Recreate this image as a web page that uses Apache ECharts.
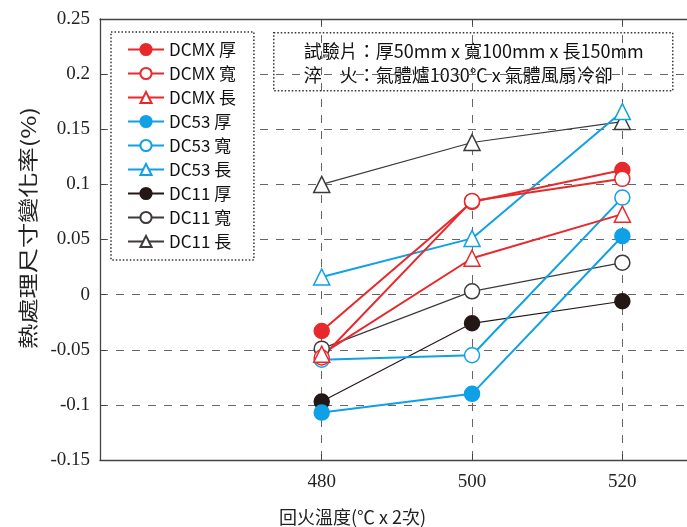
<!DOCTYPE html>
<html>
<head>
<meta charset="utf-8">
<script src="https://cdn.jsdelivr.net/npm/echarts@6/dist/echarts.min.js"></script>
<style>html,body{margin:0;padding:0;background:#fff}#c{width:687px;height:527px}</style>
</head>
<body>
<div id="c"></div>
<script>
var temps = [480, 500, 520];
var yTicks = [-0.15, -0.1, -0.05, 0, 0.05, 0.1, 0.15, 0.2, 0.25];
var names = ['DCMX 厚', 'DCMX 寬', 'DCMX 長', 'DC53 厚', 'DC53 寬', 'DC53 長', 'DC11 厚', 'DC11 寬', 'DC11 長'];
var dcmxThick = [-0.033, 0.084, 0.113];
var dcmxWide = [-0.057, 0.085, 0.105];
var dcmxLong = [-0.054, 0.033, 0.073];
var dc53Thick = [-0.107, -0.090, 0.053];
var dc53Wide = [-0.059, -0.055, 0.088];
var dc53Long = [0.016, 0.051, 0.166];
var dc11Thick = [-0.097, -0.026, -0.006];
var dc11Wide = [-0.049, 0.003, 0.029];
var dc11Long = [0.100, 0.138, 0.157];
var noteLines = ['試驗片：厚50mm x 寬100mm x 長150mm', '淬\u3000火：氣體爐1030℃ x 氣體風扇冷卻'];
var xTitle = '回火溫度(℃ x 2次)';
var yTitle = '熱處理尺寸變化率(%)';

var RED = '#e8292c', BLUE = '#0fa0e6', BLACK = '#231815', GREY = '#3d3a39';
var sans = '"Noto Sans CJK TC", "Noto Sans", sans-serif';
var serif = '"Liberation Serif", "DejaVu Serif", serif';

function pts(arr) { return temps.map(function (t, i) { return [t, arr[i]]; }); }
function mk(name, arr, color, symbol, lw, size, filled) {
  return {
    name: name, type: 'line', data: pts(arr), symbol: symbol, symbolSize: size,
    lineStyle: { color: color, width: lw },
    itemStyle: { color: filled ? color : '#fff', borderColor: color, borderWidth: 1.5 },
    emphasis: { disabled: true }, animation: false
  };
}
var series = [
  mk(names[6], dc11Thick, BLACK, 'circle', 1.2, 15, true),
  mk(names[7], dc11Wide, GREY, 'circle', 1.2, 15, false),
  mk(names[8], dc11Long, GREY, 'triangle', 1.2, 16, false),
  mk(names[3], dc53Thick, BLUE, 'circle', 2, 15, true),
  mk(names[4], dc53Wide, BLUE, 'circle', 2, 15, false),
  mk(names[5], dc53Long, BLUE, 'triangle', 2, 16, false),
  mk(names[0], dcmxThick, RED, 'circle', 2, 15, true),
  mk(names[1], dcmxWide, RED, 'circle', 2, 15, false),
  mk(names[2], dcmxLong, RED, 'triangle', 2, 16, false)
];

var chart = echarts.init(document.getElementById('c'), null, { renderer: 'canvas' });
chart.setOption({
  animation: false,
  backgroundColor: '#fff',
  grid: { left: 100, top: 19, right: 0, bottom: 67, containLabel: false, outerBoundsMode: 'none' },
  legend: {
    data: names, orient: 'vertical', left: 111, top: 32,
    padding: [9, 18, 10, 16], itemGap: 7, itemWidth: 36, itemHeight: 14,
    backgroundColor: '#fff',
    borderColor: '#333', borderWidth: 1.5, borderType: [1.5, 2],
    textStyle: { fontFamily: sans, fontSize: 17, color: '#111' },
    selectedMode: false
  },
  xAxis: [{
    type: 'value', min: 450.5, max: 528.6, position: 'bottom',
    axisLine: { onZero: false, lineStyle: { color: '#444', width: 1.3 } },
    axisTick: { show: true, inside: true, length: 6, customValues: temps, lineStyle: { color: '#444' } },
    axisLabel: { customValues: temps, fontFamily: serif, fontSize: 19, color: '#222', margin: 13 },
    splitLine: { show: true, lineStyle: { color: '#666', type: [8, 8], width: 1 } },
    name: xTitle, nameLocation: 'middle', nameGap: 48,
    nameTextStyle: { fontFamily: sans, fontSize: 18, color: '#222', padding: [0, 82, 0, 0] }
  }, {
    type: 'value', min: 450.5, max: 528.6, position: 'top',
    axisLine: { show: true, onZero: false, lineStyle: { color: '#444', width: 1.3 } },
    axisTick: { show: true, inside: true, length: 6, customValues: temps, lineStyle: { color: '#444' } },
    axisLabel: { show: false }, splitLine: { show: false }
  }],
  yAxis: {
    type: 'value', min: -0.15, max: 0.25, interval: 0.05,
    axisLine: { show: true, onZero: false, lineStyle: { color: '#444', width: 1.3 } },
    axisTick: { show: true, inside: true, length: 6, lineStyle: { color: '#444' } },
    axisLabel: { fontFamily: serif, fontSize: 19, color: '#222', margin: 10,
      formatter: function (v) { return String(Math.round(v * 100) / 100); } },
    splitLine: { show: true, lineStyle: { color: '#666', type: [8, 8], width: 1 } }
  },
  graphic: [{
    type: 'text', x: 28, y: 228, rotation: Math.PI / 2, scaleX: 1.26,
    style: { text: yTitle, font: '20px ' + sans, fill: '#222', align: 'center', verticalAlign: 'middle' }
  }, {
    type: 'group', left: 273, top: 32,
    children: [
      { type: 'rect', shape: { x: 0, y: 0, width: 399, height: 58 },
        style: { fill: '#fff', stroke: '#333', lineWidth: 1.5, lineDash: [1.5, 2] } },
      { type: 'text', x: 30, y: 18, style: { text: noteLines[0], font: '18px ' + sans, fill: '#111', verticalAlign: 'middle' } },
      { type: 'text', x: 30, y: 42, style: { text: noteLines[1], font: '18px ' + sans, fill: '#111', verticalAlign: 'middle' } }
    ]
  }],
  series: series
});
</script>
</body>
</html>
